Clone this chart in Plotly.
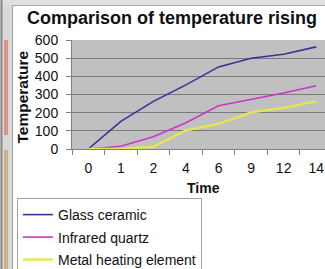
import plotly.graph_objects as go

time_labels = ["0", "1", "2", "4", "6", "9", "12", "14"]
glass_ceramic = [0, 152, 262, 353, 452, 500, 522, 562]
infrared_quartz = [0, 15, 67, 145, 238, 271, 308, 348]
metal_heating = [0, 0, 12, 103, 138, 202, 226, 262]

W, H = 325, 269
L, R, T, B = 72, 0, 40, 120
pw = W - L - R
ph = H - T - B

def px(x):
    return (x - L) / pw

def py(y):
    return (H - B - y) / ph

fig = go.Figure()
series = [
    ("Glass ceramic", glass_ceramic, "#33339a", 1.6),
    ("Infrared quartz", infrared_quartz, "#cc33cc", 1.6),
    ("Metal heating element", metal_heating, "#e6e650", 2.4),
]
for name, vals, col, w in series:
    fig.add_trace(go.Scatter(
        x=time_labels, y=vals, mode="lines", name=name,
        line=dict(color=col, width=w), legendgroup=name,
    ))

fig.update_layout(
    width=W, height=H,
    margin=dict(l=L, r=R, t=T, b=B, autoexpand=False),
    paper_bgcolor="white",
    plot_bgcolor="#c0c0c0",
    font=dict(family="Liberation Sans, Arial, sans-serif", color="#111111", size=14),
    title=dict(text="<b>Comparison of temperature rising</b>", x=px(172), xref="paper",
               xanchor="center", y=1 - 18 / H, yanchor="middle",
               font=dict(size=18, color="#111111")),
    showlegend=True,
    legend=dict(
        x=px(17), y=py(198), xanchor="left", yanchor="top",
        bgcolor="white", bordercolor="#a0a0a0", borderwidth=1,
        font=dict(size=14, color="#111111"), tracegroupgap=1.3,
        traceorder="grouped",
    ),
    xaxis=dict(
        type="category", range=[-0.5, 7.27], showgrid=False,
        showline=True, linecolor="#808080", linewidth=1,
        ticks="outside", ticklen=5, tickcolor="#808080", tickson="boundaries",
        tickfont=dict(size=14), fixedrange=True, automargin=False,
        ticklabelstandoff=6,
    ),
    yaxis=dict(
        range=[0, 600], dtick=100, showgrid=True, gridcolor="#7a7a7a", gridwidth=1,
        showline=True, linecolor="#808080", linewidth=1,
        ticks="outside", ticklen=5, tickcolor="#808080",
        tickfont=dict(size=14), zeroline=False, automargin=False,
        ticklabelstandoff=5, fixedrange=True,
    ),
    annotations=[
        dict(text="<b>Time</b>", x=px(203), y=py(187.5), xref="paper", yref="paper",
             showarrow=False, font=dict(size=14), xanchor="center", yanchor="middle"),
        dict(text="<b>Temperature</b>", x=px(21.5), y=py(97), xref="paper", yref="paper",
             showarrow=False, font=dict(size=15.5), textangle=-90,
             xanchor="center", yanchor="middle"),
    ],
    shapes=[
        dict(type="rect", xref="paper", yref="paper", x0=px(0), x1=px(12.5), y0=py(H), y1=py(0),
             fillcolor="#d9d9d9", line=dict(width=0), layer="below"),
        dict(type="rect", xref="paper", yref="paper", x0=px(0), x1=px(W), y0=py(0), y1=py(5.5),
             fillcolor="#e0e0e0", line=dict(width=0), layer="below"),
        dict(type="line", xref="paper", yref="paper", x0=px(12.5), x1=px(12.5), y0=py(H), y1=py(5.5),
             line=dict(color="#a8a8a8", width=1.2)),
        dict(type="line", xref="paper", yref="paper", x0=px(12.5), x1=px(W), y0=py(5.5), y1=py(5.5),
             line=dict(color="#a8a8a8", width=1.2)),
        dict(type="line", xref="paper", yref="paper", x0=px(1.5), x1=px(1.5), y0=py(H), y1=py(0),
             line=dict(color="#888888", width=2)),
        dict(type="rect", xref="paper", yref="paper", x0=px(4), x1=px(8), y0=py(135), y1=py(40),
             fillcolor="#e0706a", line=dict(width=0), opacity=0.7),
        dict(type="rect", xref="paper", yref="paper", x0=px(4), x1=px(8), y0=py(269), y1=py(150),
             fillcolor="#c9905a", line=dict(width=0), opacity=0.6),
    ],
)

fig.write_html("out.html", config={"displayModeBar": False},
               post_script="document.body.style.margin='0';document.body.style.overflow='hidden';")
